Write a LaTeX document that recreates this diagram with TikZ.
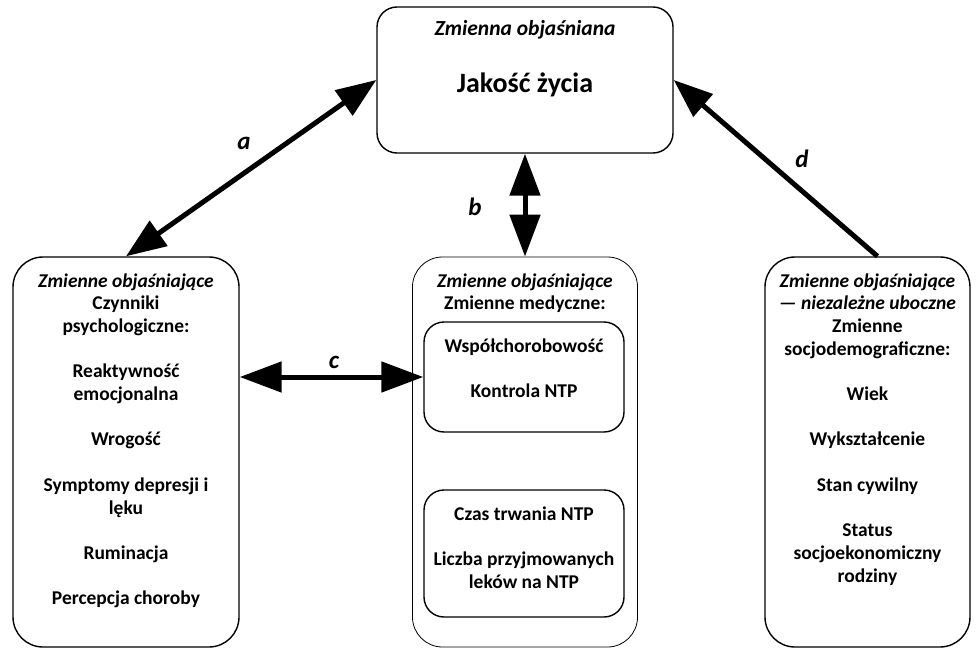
\documentclass[tikz,border=0pt]{standalone}
\usepackage{fontspec}
\setmainfont{Carlito}
\usetikzlibrary{arrows.meta}

\newcommand{\txt}{\fontsize{19.5}{22.7}\selectfont\bfseries}
\newcommand{\lines}[1]{\begin{tabular}[t]{@{}c@{}}#1\end{tabular}}

\tikzset{
  box/.style={draw, line width=1.4pt, rounded corners=#1, inner sep=0pt},
  box/.default=30pt,
  thinbox/.style={draw, line width=0.8pt, rounded corners=30pt, inner sep=0pt},
  body/.style={anchor=base, inner sep=0pt, font=\txt},
  tag/.style={font=\fontsize{25}{30}\selectfont\bfseries\itshape, inner sep=0pt},
  link/.style={line width=5pt}
}

\begin{document}
\begin{tikzpicture}[x=1pt, y=-1pt]
  \useasboundingbox (0,0) rectangle (977,650);

  % boxes
  \node[box=20pt, minimum width=296pt, minimum height=146pt] (top) at (525,80) {};
  \node[box, minimum width=226pt, minimum height=390pt] (left) at (126,452) {};
  \node[thinbox, minimum width=225pt, minimum height=390pt] (mid) at (525,452) {};
  \node[box=20pt, minimum width=200pt, minimum height=110pt] (medA) at (524,377) {};
  \node[box=20pt, minimum width=200pt, minimum height=127pt] (medB) at (524,553.5) {};
  \node[box, minimum width=205pt, minimum height=390pt] (right) at (867.5,452) {};

  % texts
  \node[body, font=\fontsize{21.5}{26}\selectfont\bfseries] (topTitle) at (525,36) {\textit{Zmienna objaśniana}};
  \node[body, font=\fontsize{28}{32}\selectfont\bfseries] (topMain) at (525,93) {Jakość życia};

  \node[body] (leftText) at (126,287) {\lines{\textit{Zmienne objaśniające}\\
    Czynniki\\ psychologiczne:\\ \\ Reaktywność\\ emocjonalna\\ \\ Wrogość\\ \\
    Symptomy depresji i\\ lęku\\ \\ Ruminacja\\ \\ Percepcja choroby}};

  \node[body] (midText) at (525,287) {\lines{\textit{Zmienne objaśniające}\\ Zmienne medyczne:}};
  \node[body] (medAText) at (524,352) {\lines{Współchorobowość\\ \\ Kontrola NTP}};
  \node[body] (medBText) at (524,520) {\lines{Czas trwania NTP\\ \\ Liczba przyjmowanych\\ leków na NTP}};

  \node[body] (rightText) at (867.5,287) {\lines{\textit{Zmienne objaśniające}\\
    \textit{— niezależne uboczne}\\ Zmienne\\ socjodemograficzne:\\ \\ Wiek\\ \\
    Wykształcenie\\ \\ Stan cywilny\\ \\ Status\\ socjoekonomiczny\\ rodziny}};

  % connectors
  \draw[link, {Triangle[length=40pt, width=30pt]}-{Triangle[length=40pt, width=30pt]}] (left.north) -- (top.west);
  \draw[link, {Triangle[length=42pt, width=30pt]}-{Triangle[length=42pt, width=30pt]}] (top.south) -- (mid.north);
  \draw[link, {Triangle[length=42pt, width=30pt]}-{Triangle[length=42pt, width=30pt]}] (left.east |- medA.west) -- (medA.west);
  \coordinate (dStart) at ([xshift=10pt]right.north);
  \draw[link, -{Triangle[length=39pt, width=29pt]}] (dStart) -- (top.east);

  % connector labels
  \node[tag] (la) at (244,143) {a};
  \node[tag] (lb) at (475,207) {b};
  \node[tag] (lc) at (334,362) {c};
  \node[tag] (ld) at (802,159) {d};
\end{tikzpicture}
\end{document}
